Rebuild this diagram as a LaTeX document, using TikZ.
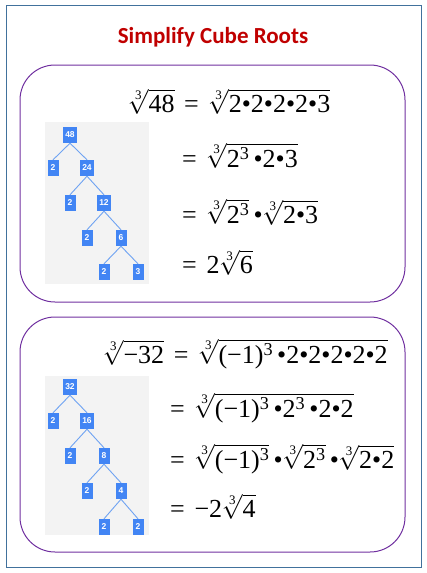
\documentclass[tikz,border=0pt]{standalone}
\usepackage{amsmath}
\usepackage{fontspec}
\setmainfont{Liberation Serif}
\newfontfamily\titlefont{Carlito}
\newfontfamily\numfont{Liberation Sans}

% digits, brackets, = and minus in math taken from the serif text font
\DeclareSymbolFont{tdigits}{TU}{\rmdefault}{m}{n}
\newcommand\setglyph[2]{\Umathcode`#1=#2 \symtdigits `#1 }
\AtBeginDocument{%
    \setglyph{0}{0}\setglyph{1}{0}\setglyph{2}{0}\setglyph{3}{0}\setglyph{4}{0}%
    \setglyph{5}{0}\setglyph{6}{0}\setglyph{7}{0}\setglyph{8}{0}\setglyph{9}{0}%
    \setglyph{(}{4}\setglyph{)}{5}\setglyph{=}{3}%
    \Umathcode`-=2 \symtdigits "2212 %
    \Umathchardef\dt=0 \symtdigits "2022 %
}
\thickmuskip=7mu plus 5mu\relax
\newcommand\negone{\smash{(-1)}^3}

\definecolor{frameblue}{HTML}{41719C}
\definecolor{titlered}{HTML}{C00000}
\definecolor{panelpurple}{HTML}{7030A0}
\definecolor{treeblue}{HTML}{4285F4}
\definecolor{branchblue}{HTML}{6FA3F2}
\definecolor{treebg}{HTML}{F3F3F3}

\tikzset{
    num/.style={fill=treeblue, text=white, font=\numfont\bfseries\fontsize{8.5}{9}\selectfont,
        minimum height=16pt, minimum width=11pt, inner xsep=2.5pt, inner ysep=0pt},
    branch/.style={draw=branchblue, line width=0.9pt},
    panel/.style={draw=panelpurple, line width=1pt, rounded corners=35pt},
    eqn/.style={anchor=base west, inner sep=0pt, font=\fontsize{26}{30}\selectfont},
}

\begin{document}
\begin{tikzpicture}[x=1pt, y=-1pt]
    \useasboundingbox (0,0) rectangle (427,573);
    \draw[frameblue, line width=1pt] (6,5) rectangle (421,567);
    \node[anchor=base, text=titlered, font=\titlefont\bfseries\fontsize{23}{27}\selectfont] (title) at (213,43) {Simplify Cube Roots};

    % first panel: 48
    \draw[panel] (20,65) rectangle (405,302);
    \fill[treebg] (45,122) rectangle (149,284);
    \node[num] (a48) at (70,135) {48};
    \node[num] (a2) at (53,168) {2};
    \node[num] (a24) at (87,168) {24};
    \node[num] (b2) at (70,203) {2};
    \node[num] (a12) at (104,203) {12};
    \node[num] (c2) at (87,238) {2};
    \node[num] (a6) at (121,238) {6};
    \node[num] (d2) at (104,272) {2};
    \node[num] (a3) at (138,272) {3};
    \foreach \p/\c in {a48/a2, a48/a24, a24/b2, a24/a12, a12/c2, a12/a6, a6/d2, a6/a3}
        \draw[branch] (\p.south) -- (\c.north);

    \node[eqn] (e1) at (128,112) {$\sqrt[3]{48}=\sqrt[3]{2\dt2\dt2\dt2\dt3}$};
    \node[eqn] (e2) at (182,167) {$=\sqrt[3]{2^3\,\dt2\dt3}$};
    \node[eqn] (e3) at (182,223) {$=\sqrt[3]{2^3}\,\dt\sqrt[3]{2\dt3}$};
    \node[eqn] (e4) at (182,273) {$=2\sqrt[3]{6}$};

    % second panel: -32
    \draw[panel] (20,317) rectangle (405,552);
    \fill[treebg] (45,376) rectangle (149,535);
    \node[num] (m32) at (70,387) {32};
    \node[num] (m2) at (53,421) {2};
    \node[num] (m16) at (87,421) {16};
    \node[num] (n2) at (70,456) {2};
    \node[num] (m8) at (104,456) {8};
    \node[num] (o2) at (87,491) {2};
    \node[num] (m4) at (121,491) {4};
    \node[num] (p2) at (104,527) {2};
    \node[num] (q2) at (138,527) {2};
    \foreach \p/\c in {m32/m2, m32/m16, m16/n2, m16/m8, m8/o2, m8/m4, m4/p2, m4/q2}
        \draw[branch] (\p.south) -- (\c.north);

    \node[eqn] (f1) at (103,363) {$\sqrt[3]{-32}=\sqrt[3]{\negone\,\dt2\dt2\dt2\dt2\dt2}$};
    \node[eqn] (f2) at (170,417) {$=\sqrt[3]{\negone\,\dt2^3\,\dt2\dt2}$};
    \node[eqn] (f3) at (170,468) {$=\sqrt[3]{\negone}\,\dt\sqrt[3]{2^3}\,\dt\sqrt[3]{2\dt2}$};
    \node[eqn] (f4) at (170,517) {$=-2\sqrt[3]{4}$};
\end{tikzpicture}
\end{document}
